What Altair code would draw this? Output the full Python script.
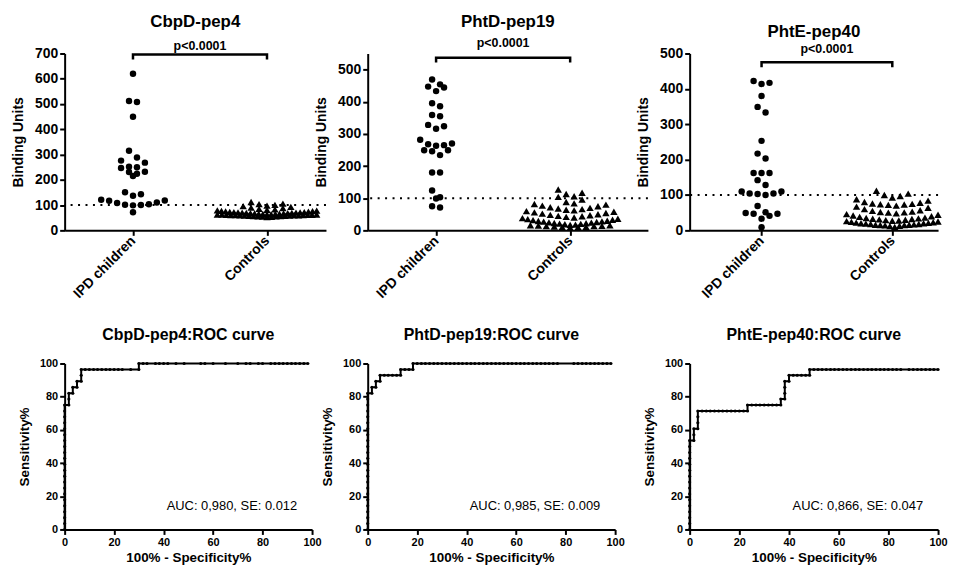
import altair as alt
import pandas as pd

F = "Liberation Sans"

# ---------------- data ----------------
top_titles = ["CbpD-pep4", "PhtD-pep19", "PhtE-pep40"]
roc_titles = ["CbpD-pep4:ROC curve", "PhtD-pep19:ROC curve", "PhtE-pep40:ROC curve"]
groups = ["IPD children", "Controls"]
y_titles = ["Binding Units", "Binding Units", "Binding  Units"]

cbpd_ipd = [620, 512, 508, 450, 315, 288, 276, 268, 252, 250, 247, 232, 231, 224,
            215, 151, 143, 137, 121, 118, 117, 110, 108, 103, 101, 100, 99, 72]
cbpd_ctrl = [112, 106, 104, 101, 98, 96, 93, 90, 88, 85, 83, 81, 79, 78, 77, 76, 75,
             74, 73, 72, 72, 71, 71, 70, 70, 69, 69, 68, 68, 67, 67, 66, 66, 65, 65,
             64, 64, 63, 63, 63, 62, 62, 62, 61, 61, 61, 60, 60, 60, 59, 59, 58, 58,
             57, 57, 56, 56, 55, 54, 53]

phtd_ipd = [469, 454, 447, 444, 433, 395, 386, 359, 355, 328, 324, 316, 282, 270,
            268, 265, 263, 249, 249, 246, 234, 180, 180, 124, 103, 99, 75, 71]
phtd_ctrl = [127, 117, 113, 106, 104, 96, 88, 84, 82, 80, 77, 75, 72, 70, 68, 66, 64,
             62, 60, 58, 56, 54, 52, 50, 48, 47, 45, 44, 42, 40, 38, 36, 35, 33, 32,
             30, 29, 28, 27, 26, 25, 24, 23, 22, 21, 20, 19, 18, 17, 16, 16, 15, 14,
             13, 13, 12, 11, 10, 10, 9]

phte_ipd = [422, 417, 414, 380, 349, 333, 253, 217, 203, 162, 162, 162, 142, 128,
            110, 110, 104, 104, 103, 100, 69, 51, 49, 47, 47, 41, 33, 9]
phte_ctrl = [112, 104, 100, 97, 93, 88, 84, 80, 78, 76, 75, 74, 73, 72, 70, 67, 64,
             60, 57, 55, 53, 52, 51, 50, 48, 46, 44, 42, 40, 38, 36, 35, 34, 33, 32,
             31, 30, 29, 28, 27, 26, 25, 24, 23, 22, 21, 20, 20, 19, 18, 18, 17, 16,
             16, 15, 15, 14, 13, 12, 10]

y_max = [700, 550, 500]
y_ticks = [[0, 100, 200, 300, 400, 500, 600, 700],
           [0, 100, 200, 300, 400, 500],
           [0, 100, 200, 300, 400, 500]]
cutoff = 100
p_label = "p<0.0001"
bracket_y = [696, 537, 475]
bracket_drop = [20, 15, 14]

roc_cbpd = [[0, 0], [0, 3.6], [0, 7.1], [0, 10.7], [0, 14.3], [0, 17.9], [0, 21.4],
            [0, 25], [0, 28.6], [0, 32.1], [0, 35.7], [0, 39.3], [0, 42.9], [0, 46.4],
            [0, 50], [0, 53.6], [0, 57.1], [0, 60.7], [0, 64.3], [0, 67.9], [0, 71.4],
            [0, 75], [1.7, 75], [1.7, 78.6], [1.7, 82.1], [3.3, 82.1], [3.3, 85.7],
            [5, 85.7], [5, 89.3], [6.7, 89.3], [6.7, 92.9], [6.7, 96.4], [8.3, 96.4],
            [10, 96.4], [11.7, 96.4], [13.3, 96.4], [15, 96.4], [16.7, 96.4],
            [18.3, 96.4], [20, 96.4], [21.7, 96.4], [23.3, 96.4], [26.7, 96.4],
            [30, 96.4], [30, 100], [31.7, 100], [33.3, 100], [36.7, 100], [38.3, 100],
            [40, 100], [41.7, 100], [45, 100], [48.3, 100], [55, 100], [56.7, 100],
            [60, 100], [65, 100], [70, 100], [73.3, 100], [75, 100], [78.3, 100],
            [80, 100], [83.3, 100], [85, 100], [86.7, 100], [88.3, 100], [90, 100],
            [91.7, 100], [93.3, 100], [95, 100], [96.7, 100], [98.3, 100]]

roc_phtd = [[0, 0], [0, 3.6], [0, 7.1], [0, 10.7], [0, 14.3], [0, 17.9], [0, 21.4],
            [0, 25], [0, 28.6], [0, 32.1], [0, 35.7], [0, 39.3], [0, 42.9], [0, 46.4],
            [0, 50], [0, 53.6], [0, 57.1], [0, 60.7], [0, 64.3], [0, 67.9], [0, 71.4],
            [0, 75], [0, 78.6], [0, 82.1], [1.7, 82.1], [1.7, 85.7], [3.3, 85.7],
            [3.3, 89.3], [5, 89.3], [5, 92.9], [6.7, 92.9], [8.3, 92.9], [10, 92.9],
            [11.7, 92.9], [13.3, 92.9], [13.3, 96.4], [15, 96.4], [16.7, 96.4],
            [18.3, 96.4], [18.3, 100], [20, 100], [21.7, 100], [23.3, 100], [25, 100],
            [26.7, 100], [28.3, 100], [30, 100], [31.7, 100], [33.3, 100], [35, 100],
            [36.7, 100], [38.3, 100], [40, 100], [41.7, 100], [43.3, 100], [45, 100],
            [46.7, 100], [48.3, 100], [50, 100], [51.7, 100], [53.3, 100], [55, 100],
            [56.7, 100], [58.3, 100], [60, 100], [61.7, 100], [63.3, 100], [65, 100],
            [66.7, 100], [68.3, 100], [70, 100], [71.7, 100], [73.3, 100], [75, 100],
            [76.7, 100], [83.3, 100], [85, 100], [86.7, 100], [88.3, 100], [90, 100],
            [91.7, 100], [93.3, 100], [95, 100], [96.7, 100], [98.3, 100]]

roc_phte = [[0, 0], [0, 3.6], [0, 7.1], [0, 10.7], [0, 14.3], [0, 17.9], [0, 21.4],
            [0, 25], [0, 28.6], [0, 32.1], [0, 35.7], [0, 39.3], [0, 42.9], [0, 46.4],
            [0, 50], [0, 53.6], [1.7, 53.6], [1.7, 57.1], [1.7, 60.7], [3.3, 60.7],
            [3.3, 64.3], [3.3, 67.9], [3.3, 71.4], [5, 71.4], [6.7, 71.4], [8.3, 71.4],
            [10, 71.4], [11.7, 71.4], [13.3, 71.4], [15, 71.4], [16.7, 71.4],
            [18.3, 71.4], [20, 71.4], [21.7, 71.4], [23.3, 71.4], [23.3, 75], [25, 75],
            [26.7, 75], [28.3, 75], [30, 75], [31.7, 75], [33.3, 75], [35, 75],
            [36.7, 75], [36.7, 78.6], [38.3, 78.6], [38.3, 82.1], [38.3, 85.7],
            [38.3, 89.3], [40, 89.3], [40, 92.9], [41.7, 92.9], [43.3, 92.9],
            [45, 92.9], [46.7, 92.9], [48.3, 92.9], [48.3, 96.4], [50, 96.4],
            [51.7, 96.4], [53.3, 96.4], [55, 96.4], [56.7, 96.4], [58.3, 96.4],
            [60, 96.4], [61.7, 96.4], [63.3, 96.4], [65, 96.4], [66.7, 96.4],
            [68.3, 96.4], [70, 96.4], [71.7, 96.4], [73.3, 96.4], [75, 96.4],
            [76.7, 96.4], [78.3, 96.4], [80, 96.4], [81.7, 96.4], [83.3, 96.4],
            [85, 96.4], [88.3, 96.4], [90, 96.4], [91.7, 96.4], [93.3, 96.4],
            [95, 96.4], [96.7, 96.4], [98.3, 96.4], [100, 96.4]]

auc_text = ["AUC: 0,980, SE: 0.012", "AUC: 0,985, SE: 0.009", "AUC: 0,866, SE: 0.047"]
roc_ticks = [0, 20, 40, 60, 80, 100]

# ---------------- layout ----------------
top_w = [263, 282, 250]
top_h = 178
x_domain = [[-0.01, 1.94], [-0.01, 2.08], [-0.05, 1.85]]
bot_w = [249, 249, 250]
bot_h = 167
title_offset_top = [9, 6, 2]
title_offset_bot = 15
p_dy = [9, 15, 13]
ipd_row_h, ipd_sp, ipd_maxw = 7.0, 8.0, 64.0
ctrl_row_h = [4.0, 7.0, 7.0]
ctrl_sp = 8.0
ctrl_maxw = [100.0, 96.0, 92.0]


def row_swarm(values, ppu, row_h, sp, maxw):
    """GraphPad-like scatter: values closer than row_h pixels share a row,
    spread side by side (spacing shrinks when a row gets too wide)."""
    idx = sorted(range(len(values)), key=lambda k: -values[k])
    rows = []
    for k in idx:
        if rows and (values[rows[-1][0]] - values[k]) * ppu < row_h:
            rows[-1].append(k)
        else:
            rows.append([k])
    xs = [0.0] * len(values)
    for r in rows:
        m = len(r)
        s = sp if m <= 1 else min(sp, maxw / (m - 1))
        slots = [(j - (m - 1) / 2.0) * s for j in range(m)]
        slots.sort(key=lambda v: (-abs(v), v))
        for k, sl in zip(r, slots):
            xs[k] = sl
    return xs


def scatter_panel(i, ipd, ctrl):
    w = top_w[i]
    x0, x1 = x_domain[i]
    ppu = top_h / y_max[i]
    ux = (x1 - x0) / w
    off_i = row_swarm(ipd, ppu, ipd_row_h, ipd_sp, ipd_maxw)
    off_c = row_swarm(ctrl, ppu, ctrl_row_h[i], ctrl_sp, ctrl_maxw[i])
    df = pd.DataFrame({
        "group": [groups[0]] * len(ipd) + [groups[1]] * len(ctrl),
        "value": ipd + ctrl,
        "xpos": [0.5 + o * ux for o in off_i] + [1.5 + o * ux for o in off_c],
    })
    xs = alt.Scale(domain=[x0, x1], nice=False, zero=False)
    ys = alt.Scale(domain=[0, y_max[i]], nice=False)
    xaxis = alt.Axis(values=[0.5, 1.5], title=None,
                     labelExpr="datum.value < 1 ? 'IPD children' : 'Controls'",
                     labelAngle=315, labelAlign="right", labelBaseline="middle",
                     labelPadding=3, labelFontSize=14)
    yaxis = alt.Axis(values=y_ticks[i], title=y_titles[i], labelPadding=2,
                     titlePadding=9, labelFontSize=14, titleFontSize=14)
    X = lambda: alt.X("xpos:Q", scale=xs, axis=xaxis)
    Y = lambda: alt.Y("value:Q", scale=ys, axis=yaxis)
    pts = alt.Chart(df).mark_point(filled=True, opacity=1, color="black").encode(
        x=X(), y=Y(),
        shape=alt.Shape("group:N", scale=alt.Scale(domain=groups, range=["circle", "triangle-up"]), legend=None),
        size=alt.Size("group:N", scale=alt.Scale(domain=groups, range=[42, 55]), legend=None),
    )
    rule = alt.Chart(pd.DataFrame({"value": [cutoff]})).mark_rule(
        color="black", strokeWidth=2, strokeDash=[2, 5.5]).encode(y=Y())
    b = bracket_y[i]
    dd = bracket_drop[i]
    br = pd.DataFrame({"xpos": [0.5, 0.5, 1.5, 1.5], "value": [b - dd, b, b, b - dd], "o": [0, 1, 2, 3]})
    bracket = alt.Chart(br).mark_line(color="black", strokeWidth=2.5).encode(
        x=X(), y=Y(), order="o:Q")
    ptxt = alt.Chart(pd.DataFrame({"xpos": [1.0], "value": [b], "t": [p_label]})).mark_text(
        font=F, fontSize=12.5, fontWeight="bold", color="black", baseline="middle",
        dy=-p_dy[i]).encode(x=X(), y=Y(), text="t:N")
    return alt.layer(pts, rule, bracket, ptxt).properties(
        width=w, height=top_h,
        title=alt.TitleParams(top_titles[i], font=F, fontSize=17, fontWeight="bold",
                              color="black", frame="group", offset=title_offset_top[i]))


def roc_panel(i, pts):
    df = pd.DataFrame(pts, columns=["fpr", "tpr"])
    df["o"] = range(len(df))
    xs = alt.Scale(domain=[0, 100], nice=False)
    ys = alt.Scale(domain=[0, 100], nice=False)
    xaxis = alt.Axis(values=roc_ticks, title="100% - Specificity%", labelPadding=2,
                     titlePadding=3, labelFontSize=11, titleFontSize=13.5)
    yaxis = alt.Axis(values=roc_ticks, title="Sensitivity%", labelPadding=2,
                     titlePadding=8, labelFontSize=11, titleFontSize=13.5)
    X = lambda: alt.X("fpr:Q", scale=xs, axis=xaxis)
    Y = lambda: alt.Y("tpr:Q", scale=ys, axis=yaxis)
    line = alt.Chart(df).mark_line(color="black", strokeWidth=2).encode(
        x=X(), y=Y(), order="o:Q")
    dots = alt.Chart(df).mark_circle(color="black", size=10, opacity=1).encode(x=X(), y=Y())
    auc = alt.Chart(pd.DataFrame({"fpr": [94], "tpr": [14], "t": [auc_text[i]]})).mark_text(
        font=F, fontSize=13, color="black", align="right", baseline="middle").encode(
        x=X(), y=Y(), text="t:N")
    return alt.layer(line, dots, auc).properties(
        width=bot_w[i], height=bot_h,
        title=alt.TitleParams(roc_titles[i], font=F, fontSize=16, fontWeight="bold",
                              color="black", frame="group", offset=title_offset_bot))


panels = [
    scatter_panel(0, cbpd_ipd, cbpd_ctrl),
    scatter_panel(1, phtd_ipd, phtd_ctrl),
    scatter_panel(2, phte_ipd, phte_ctrl),
    roc_panel(0, roc_cbpd),
    roc_panel(1, roc_phtd),
    roc_panel(2, roc_phte),
]

chart = alt.concat(*panels, columns=3, spacing={"row": 134, "column": 42},
                   bounds="flush").properties(
    padding={"left": 3, "top": 3, "right": 0, "bottom": 0}
).configure(
    background="white",
    view=alt.ViewConfig(stroke=None),
    axis=alt.AxisConfig(grid=False, domainColor="black", domainWidth=2,
                        tickColor="black", tickWidth=2, tickSize=5, labelFont=F,
                        labelFontWeight="bold", labelColor="black", titleFont=F,
                        titleFontWeight="bold", titleColor="black",
                        labelFlush=False, labelOverlap=False),
)

chart.save("out.html", embed_options={"renderer": "svg", "actions": False})
